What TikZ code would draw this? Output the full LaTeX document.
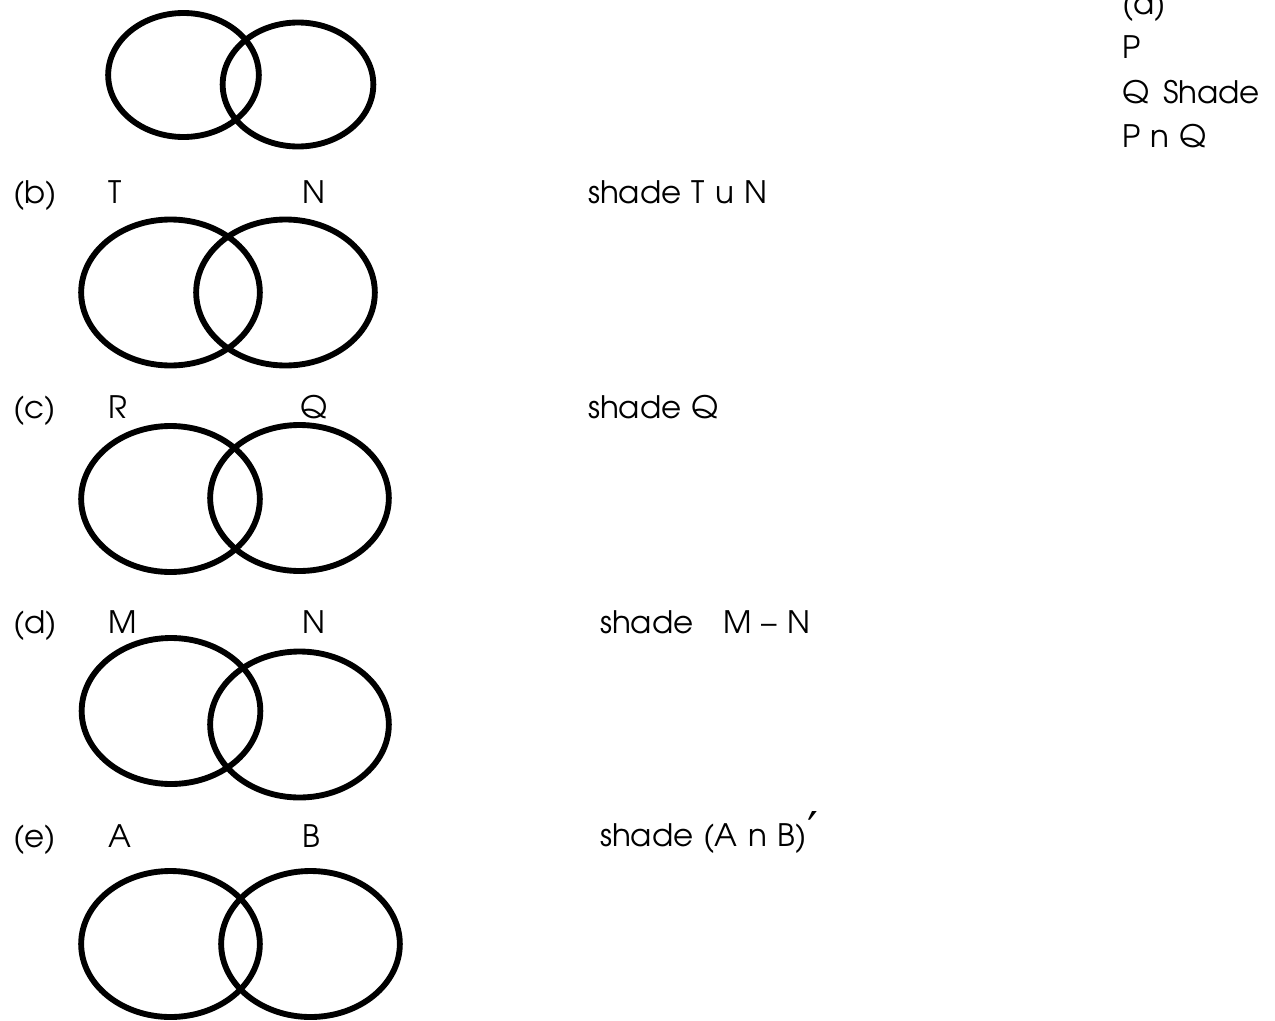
\documentclass[tikz,border=0pt]{standalone}
\usepackage{fontspec}
\setmainfont{texgyreadventor}[Extension=.otf,UprightFont=*-regular,WordSpace=1.2]
\newfontfamily\primefont{DejaVu Sans}
\usetikzlibrary{shapes.geometric}
\tikzset{
  vset/.style={draw=black, line width=4.4pt, ellipse, inner sep=0pt, fill=none},
  bigset/.style={vset, minimum width=134pt, minimum height=109.5pt},
  smallset/.style={vset, minimum width=113pt, minimum height=93pt},
  lbl/.style={anchor=base west, inner sep=0pt, outer sep=0pt, font=\fontsize{23.2pt}{27pt}\selectfont},
}
\begin{document}
\begin{tikzpicture}[x=0.75pt, y=-0.75pt]
\useasboundingbox (0,0) rectangle (1275,1021);
% (a)
\node[smallset] (aL) at (183.5,75) {};
\node[smallset] (aR) at (298,84.5) {};
\node[lbl] (ta1) at (1122,14) {(a)};
\node[lbl] (ta2) at (1122,58) {P};
\node[lbl] (ta3) at (1122,103) {Q};
\node[lbl] (ta4) at (1163,103) {Shade};
\node[lbl] (ta5) at (1122,147) {P n Q};
% (b)
\node[bigset] (bL) at (170.5,292.5) {};
\node[bigset] (bR) at (285.5,292.5) {};
\node[lbl] (tb0) at (13,203) {(b)};
\node[lbl] (tb1) at (108,203) {T};
\node[lbl] (tb2) at (302,203) {N};
\node[lbl] (tb3) at (588,203) {shade T u N};
% (c)
\node[bigset] (cL) at (170.5,499) {};
\node[bigset] (cR) at (299.5,498) {};
\node[lbl] (tc0) at (13,418) {(c)};
\node[lbl] (tc1) at (108,418) {R};
\node[lbl] (tc2) at (300,418) {Q};
\node[lbl] (tc3) at (588,418) {shade Q};
% (d)
\node[bigset] (dL) at (171,711) {};
\node[bigset] (dR) at (299.5,724.5) {};
\node[lbl] (td0) at (13,633) {(d)};
\node[lbl] (td1) at (108,633) {M};
\node[lbl] (td2) at (302,633) {N};
\node[lbl] (td3) at (600,633) {shade};
\node[lbl] (td4) at (723,633) {M -- N};
% (e)
\node[bigset] (eL) at (170.5,944) {};
\node[bigset] (eR) at (310.5,944) {};
\node[lbl] (te0) at (13,847) {(e)};
\node[lbl] (te1) at (108,847) {A};
\node[lbl] (te2) at (302,847) {B};
\node[lbl] (te3) at (600,846) {shade (A n B)\kern1pt{\primefont\fontsize{36pt}{36pt}\selectfont ′}};
\end{tikzpicture}
\end{document}
